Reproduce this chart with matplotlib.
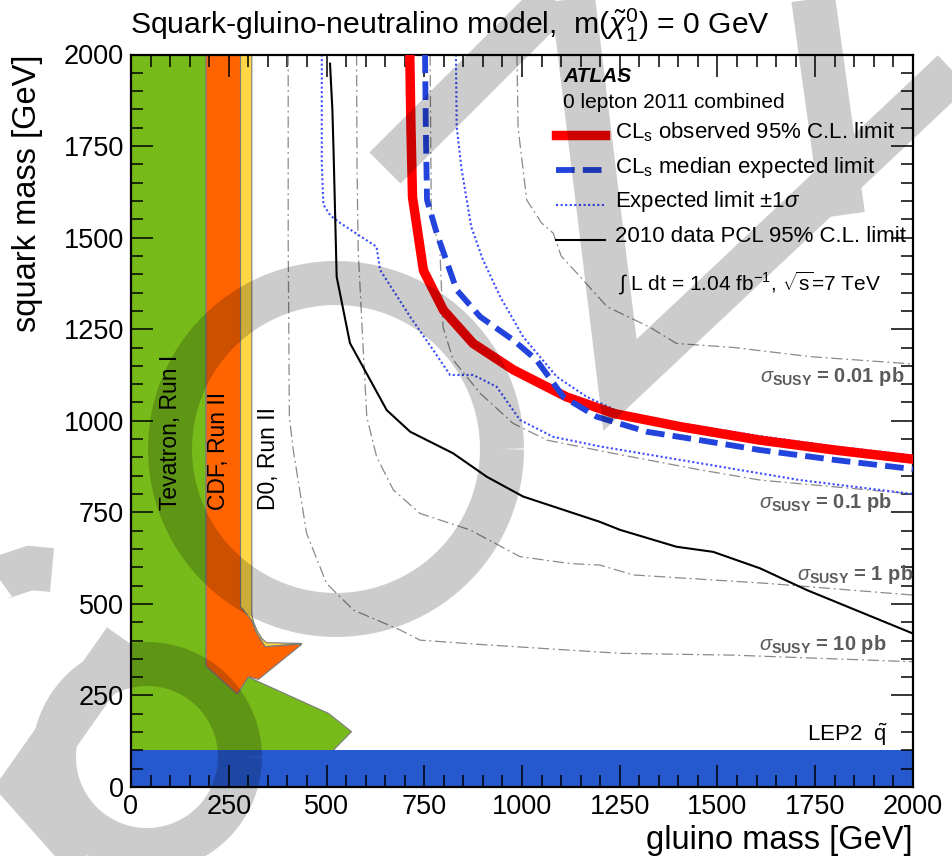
import numpy as np
import matplotlib
matplotlib.use("Agg")
import matplotlib.pyplot as plt
from matplotlib.patches import Polygon, PathPatch
from matplotlib.path import Path
from matplotlib.transforms import Affine2D
from matplotlib.ticker import MultipleLocator

plt.rcParams['font.family'] = ['Liberation Sans', 'DejaVu Sans']
plt.rcParams['mathtext.fontset'] = 'custom'
plt.rcParams['mathtext.rm'] = 'Liberation Sans'
plt.rcParams['mathtext.it'] = 'Liberation Sans:italic'
plt.rcParams['mathtext.bf'] = 'Liberation Sans:bold'
plt.rcParams['mathtext.sf'] = 'Liberation Sans'

# ---------------- data (gluino mass, squark mass) in GeV ----------------
obs_x = [713, 716, 720, 748, 799, 875, 978, 1114, 1234, 1404, 1609, 1800, 2000]
obs_y = [2000, 1800, 1610, 1410, 1302, 1211, 1139, 1065, 1020, 984, 947, 920, 895]

exp_x = [752, 754, 757, 782, 833, 893, 978, 1037, 1106, 1191, 1319, 1455, 1609, 1800, 2000]
exp_y = [2000, 1800, 1603, 1512, 1357, 1284, 1220, 1166, 1065, 1011, 970, 947, 920, 893, 868]

up_x = [831, 833, 845, 870, 900, 944, 1003, 1089, 1166, 1276, 1404, 1609, 1800, 2000]
up_y = [2000, 1803, 1690, 1530, 1440, 1339, 1229, 1120, 1065, 1011, 993, 958, 930, 905]

dn_x = [488, 488, 492, 510, 535, 628, 637, 714, 773, 816, 875, 935, 995, 1080, 1199, 1455, 1711, 2000]
dn_y = [2000, 1700, 1590, 1560, 1540, 1475, 1412, 1284, 1193, 1125, 1125, 1093, 1002, 956, 930, 884, 838, 800]

pcl_x = [509, 515, 518, 526, 560, 654, 714, 824, 910, 1003, 1199, 1251, 1395, 1489, 1609, 1728, 2000]
pcl_y = [1975, 1850, 1739, 1393, 1212, 1029, 970, 911, 847, 793, 724, 702, 656, 642, 597, 538, 419]

xs10_x = [402, 402, 405, 415, 449, 500, 569, 688, 739, 910, 1251, 1540, 2000]
xs10_y = [2000, 1500, 1010, 920, 693, 556, 483, 429, 401, 388, 365, 360, 342]

xs1_x = [577, 578, 581, 594, 603, 628, 671, 739, 867, 995, 1123, 1199, 1285, 1626, 2000]
xs1_y = [2000, 1700, 1466, 1193, 1011, 902, 811, 747, 702, 629, 610, 606, 579, 556, 524]

xs01_x = [765, 767, 768, 790, 798, 824, 893, 977, 1064, 1233, 1455, 1609, 2000]
xs01_y = [2000, 1700, 1560, 1466, 1256, 1166, 1075, 993, 947, 911, 866, 838, 800]

xs001_x = [987, 990, 1012, 1050, 1080, 1100, 1149, 1218, 1326, 1395, 1542, 1738, 2000]
xs001_y = [2000, 1800, 1603, 1540, 1512, 1450, 1393, 1311, 1256, 1211, 1200, 1175, 1155]

tev_x = [0, 0, 192, 192, 272, 300, 505, 564, 517, 517]
tev_y = [0, 2000, 2000, 330, 254, 300, 201, 151, 100, 0]

cdf_x = [192, 280, 280, 308, 321, 343, 437, 326, 300, 272, 192]
cdf_y = [2000, 2000, 492, 456, 420, 383, 390, 294, 301, 254, 330]

d0_x = [280, 309, 309, 314, 324, 335, 347, 437, 343, 321, 308, 280]
d0_y = [2000, 2000, 470, 448, 424, 405, 394, 392, 383, 420, 456, 492]

lep_limit = 100

xsec_labels = ['0.01 pb', '0.1 pb', '1 pb', '10 pb']

# ---------------- figure ----------------
W, H = 952, 856
fig = plt.figure(figsize=(W / 100, H / 100), dpi=100)
L, R, T, B = 131, 913, 54.5, 787
ax = fig.add_axes([L / W, 1 - B / H, (R - L) / W, (B - T) / H])
ax.set_xlim(0, 2000)
ax.set_ylim(0, 2000)

GREEN = '#77BB1A'
ORANGE = '#FF6400'
YELLOW = '#FFD746'
LEPBLUE = '#2658CE'
EDGE = '#7a7a7a'

ax.add_patch(Polygon(np.column_stack([tev_x, tev_y]), closed=True, fc=GREEN,
                     ec=EDGE, lw=0.8, zorder=1.0))
ax.add_patch(Polygon(np.column_stack([d0_x, d0_y]), closed=True, fc=YELLOW,
                     ec=EDGE, lw=0.8, zorder=1.1))
ax.add_patch(Polygon(np.column_stack([cdf_x, cdf_y]), closed=True, fc=ORANGE,
                     ec=EDGE, lw=0.8, zorder=1.2))
ax.axhspan(0, lep_limit, color=LEPBLUE, lw=0, zorder=1.3)

# cross-section contours
for cx, cy in [(xs10_x, xs10_y), (xs1_x, xs1_y), (xs01_x, xs01_y), (xs001_x, xs001_y)]:
    ax.plot(cx, cy, color='#8a8a8a', lw=0.9, dashes=(9, 3, 1.5, 3), zorder=2)

ax.plot(dn_x, dn_y, color='#3a4cff', lw=1.5, ls=(0, (1, 1.2)), zorder=2.2)
ax.plot(up_x, up_y, color='#3a4cff', lw=1.5, ls=(0, (1, 1.2)), zorder=2.2)
ax.plot(pcl_x, pcl_y, color='black', lw=1.5, zorder=2.3)
ax.plot(obs_x, obs_y, color='#ff0000', lw=6.8, solid_joinstyle='round', zorder=2.6)
ax.plot(exp_x, exp_y, color='#2244dd', lw=4.2, dashes=(3.2, 1.4), zorder=2.7)

# axes styling
for s in ax.spines.values():
    s.set_linewidth(1.6)
ax.xaxis.set_major_locator(MultipleLocator(250))
ax.yaxis.set_major_locator(MultipleLocator(250))
ax.xaxis.set_minor_locator(MultipleLocator(50))
ax.yaxis.set_minor_locator(MultipleLocator(50))
ax.tick_params(which='both', direction='in', top=True, right=True, width=1.1)
ax.tick_params(which='major', length=16, labelsize=19.5, pad=5)
ax.tick_params(which='minor', length=8.5)

# text on the plot
tr = ax.transAxes
def ap(px, py):
    return (px - L) / (R - L), (B - py) / (B - T)

for px, txt in [(170, 'Tevatron, Run I'), (218, 'CDF, Run II'), (268, 'D0, Run II')]:
    ax.text(*ap(px, 510), txt, rotation=90, ha='center', va='bottom',
            fontsize=16.5, transform=tr, zorder=3)

ax.text(*ap(888, 735), r'LEP2  $\tilde{\mathrm{q}}$', ha='right', va='center',
        fontsize=16, transform=tr, zorder=3)

sig_pos = [(904, 377), (892, 503), (913, 575), (887, 645)]
for lab, (px, py) in zip(xsec_labels, sig_pos):
    ax.text(*ap(px, py), r'$\sigma_{\mathbf{SUSY}}$ = ' + lab, ha='right', va='center',
            fontsize=14.5, fontweight='bold', color='#5a5a5a', transform=tr, zorder=3)

ax.text(*ap(563, 77), 'ATLAS', fontsize=15, fontweight='bold', fontstyle='italic',
        ha='left', va='center', transform=tr, zorder=3)
ax.text(*ap(563, 103), '0 lepton 2011 combined', fontsize=15, ha='left', va='center',
        transform=tr, zorder=3)

leg = [
    (135, dict(color='#ff0000', lw=6.8), r'CL$_\mathrm{s}$ observed 95% C.L. limit'),
    (170, dict(color='#2244dd', lw=4.2, dashes=(3.2, 1.4)), r'CL$_\mathrm{s}$ median expected limit'),
    (205, dict(color='#3a4cff', lw=1.5, ls=(0, (1, 1.2))), r'Expected limit $\pm$1$\sigma$'),
    (240, dict(color='black', lw=1.5), '2010 data PCL 95% C.L. limit'),
]
for py, style, lab in leg:
    x0, y0 = ap(556, py)
    x1, _ = ap(605, py)
    ax.plot([x0, x1], [y0, y0], transform=tr, clip_on=False, zorder=3, **style)
    ax.text(*ap(615, py - 3), lab, fontsize=16, ha='left', va='center', transform=tr, zorder=3)

ax.text(*ap(618, 283), r'$\int$ L dt = 1.04 fb$^{-1}$, $\sqrt{\mathrm{s}}$=7 TeV', fontsize=15,
        ha='left', va='center', transform=tr, zorder=3)

# titles and axis labels
fig.text(130 / W, 1 - 25 / H, r'Squark-gluino-neutralino model,  m($\tilde{\chi}^{0}_{1}$) = 0 GeV',
         fontsize=21.7, ha='left', va='center')
fig.text(28 / W, 1 - 55 / H, 'squark mass [GeV]', rotation=90, fontsize=23.5,
         ha='center', va='top')
fig.text(913 / W, 1 - 849 / H, 'gluino mass [GeV]', fontsize=23.5,
         ha='right', va='baseline')

# translucent stamp lettering across the sheet (pixel coordinates, y from top)
def ring(cx, cy, r, n=120):
    t = np.linspace(0, 2 * np.pi, n)
    return np.column_stack([cx + r * np.cos(t), cy + r * np.sin(t)])

strokes = [
    ring(336, 449, 166),
    ring(147, 757, 93),
    np.array([[385, 168], [575, -22]]),
    np.array([[572, -10], [620, 385], [965, 60]]),
    np.array([[812, -10], [843, 215]]),
    np.array([[-30, 600], [0, 578], [30, 568], [52, 570]]),
    np.array([[125, 640], [22, 786], [110, 885]]),
]
verts, codes = [], []
for s in strokes:
    verts.extend(s.tolist())
    codes.extend([Path.MOVETO] + [Path.LINETO] * (len(s) - 1))
pix = Affine2D().scale(1 / W, -1 / H).translate(0, 1) + fig.transFigure
fig.patches.append(PathPatch(Path(verts, codes), transform=pix, fc='none', ec='black',
                             alpha=0.2, lw=44 * 0.72, capstyle='butt', joinstyle='miter',
                             zorder=10))

fig.savefig('out.png', dpi=100)
